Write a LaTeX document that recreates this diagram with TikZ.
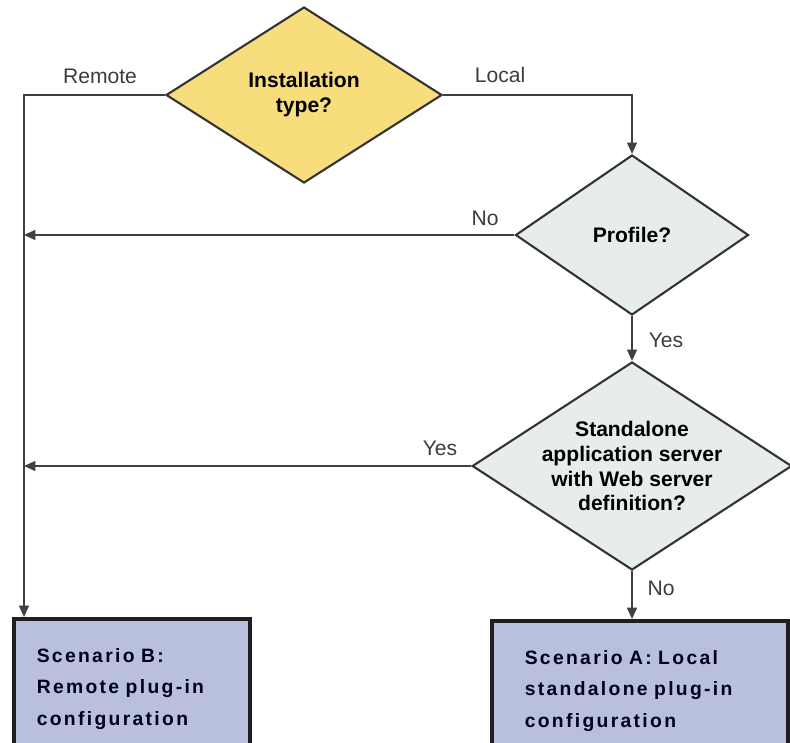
\documentclass[tikz,border=0pt]{standalone}
\usepackage{fontspec}
\setmainfont{Liberation Sans}
\newfontfamily\scenariofont{Liberation Sans}[LetterSpace=12]
\usepackage{tikz}
\usetikzlibrary{shapes.geometric, arrows.meta, positioning}
\definecolor{askyellow}{RGB}{248, 221, 125}
\definecolor{askgray}{RGB}{231, 237, 235}
\definecolor{scenblue}{RGB}{184, 192, 222}
\definecolor{flowgray}{RGB}{64, 64, 64}
\definecolor{notegray}{RGB}{60, 60, 60}

\tikzset{
	ask/.style={diamond, draw=black!80, line width=1.2pt, inner sep=0pt, shape aspect=1.54,
		align=center, font=\fontsize{12}{14.2}\selectfont\bfseries},
	scenario/.style={rectangle, draw=black!88, line width=2pt, fill=scenblue, anchor=north west,
		minimum height=2.8cm, align=left, text=black!90!blue,
		font=\fontsize{11}{18}\selectfont\scenariofont\bfseries},
	flow/.style={draw=flowgray, line width=1.1pt, -{Triangle[length=6.5pt,width=5.6pt]}},
	note/.style={font=\fontsize{12}{14}\selectfont, text=notegray, inner sep=0pt},
}

\begin{document}
\begin{tikzpicture}
	
	\useasboundingbox (0,0) rectangle (15.8,-14.84);
	\clip (0,0) rectangle (15.8,-14.84);
	
	% decisions
	\node[ask, fill=askyellow, minimum width=5.52cm, minimum height=3.52cm] (install) at (6.08,-1.9) {Installation\\type?};
	\node[ask, fill=askgray, minimum width=4.66cm, minimum height=3.2cm] (profile) at (12.64,-4.7) {Profile?};
	\node[ask, fill=askgray, minimum width=6.32cm, minimum height=4.16cm] (stand) at (12.64,-9.32) {Standalone\\application server\\with Web server\\definition?};
	
	% scenarios
	\node[scenario, minimum width=4.72cm, text width=3.8cm, inner xsep=0.46cm] (scenB) at (0.24,-12.34) {Scenario B:\\Remote plug-in\\configuration};
	\node[scenario, minimum width=5.92cm, text width=4.6cm, inner xsep=0.66cm] (scenA) at (9.8,-12.38) {Scenario A: Local\\standalone plug-in\\configuration};
	
	% left trunk
	\coordinate (trunk) at (0.48,-1.9);
	
	\draw[flow] (install.west) -- (trunk) -- (trunk |- scenB.north);
	\draw[flow] (install.east) -| (profile.north);
	\draw[flow] (profile.west) -- (trunk |- profile.west);
	\draw[flow] (profile.south) -- (stand.north);
	\draw[flow] (stand.west) -- (trunk |- stand.west);
	\draw[flow] (stand.south) -- (stand.south |- scenA.north);
	
	% labels
	\node[note] (remote) at (2.0,-1.52) {Remote};
	\node[note] (local) at (10.0,-1.5) {Local};
	\node[note] (profno) at (9.7,-4.36) {No};
	\node[note] (profyes) at (13.32,-6.8) {Yes};
	\node[note] (standyes) at (8.8,-8.96) {Yes};
	\node[note] (standno) at (13.22,-11.76) {No};
	
\end{tikzpicture}
\end{document}
